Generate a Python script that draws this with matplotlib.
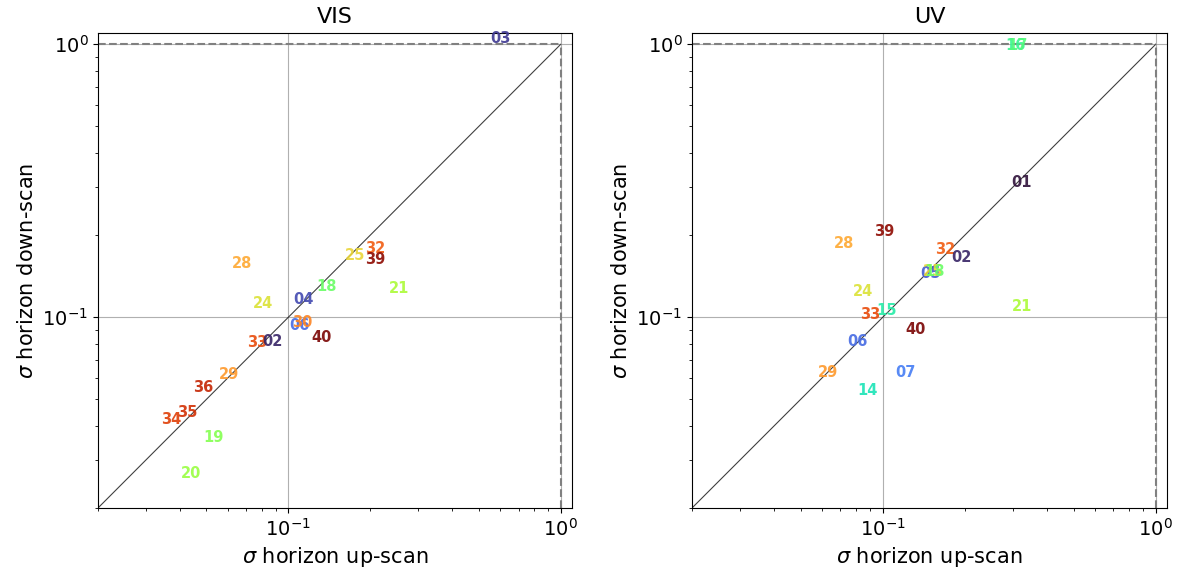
import matplotlib
matplotlib.use("Agg")
import matplotlib.pyplot as plt
import numpy as np

# Visible channel: scan id, sigma up-scan, sigma down-scan
vis_ids = ["03", "28", "24", "25", "32", "39", "18", "21", "04", "06", "30",
           "40", "33", "02", "29", "36", "35", "34", "19", "20"]
vis_up = [0.602, 0.0676, 0.0805, 0.176, 0.209, 0.209, 0.138, 0.254, 0.1138, 0.1098, 0.112,
          0.1326, 0.0771, 0.0871, 0.0603, 0.0487, 0.0424, 0.0372, 0.053, 0.0441]
vis_down = [1.046, 0.158, 0.1125, 0.168, 0.178, 0.163, 0.1297, 0.127, 0.1158, 0.0929, 0.0956,
            0.0842, 0.0807, 0.0818, 0.0616, 0.0553, 0.0449, 0.0422, 0.0361, 0.0268]

# UV channel
uv_ids = ["16", "17", "01", "39", "28", "32", "02", "05", "25", "18", "24", "15",
          "33", "21", "40", "06", "29", "07", "14"]
uv_up = [0.307, 0.311, 0.3225, 0.1009, 0.0719, 0.170, 0.1946, 0.150, 0.1525, 0.155, 0.0847, 0.1031,
         0.0896, 0.3225, 0.1319, 0.0805, 0.063, 0.1211, 0.0881]
uv_down = [0.994, 0.994, 0.311, 0.2066, 0.1866, 0.1768, 0.165, 0.145, 0.1465, 0.147, 0.1243, 0.1054,
           0.102, 0.1094, 0.0898, 0.0818, 0.0626, 0.0626, 0.0541]

lo, hi = 0.02, 1.1
W, H = 1183, 579
fig = plt.figure(figsize=(W / 100, H / 100), dpi=100)
cmap = plt.get_cmap("turbo")


def panel(rect, title, ids, up, down):
    ax = fig.add_axes(rect)
    ax.set_xscale("log")
    ax.set_yscale("log")
    ax.set_xlim(lo, hi)
    ax.set_ylim(lo, hi)
    ax.grid(True, which="major", color="#b0b0b0", lw=0.8)
    ax.set_axisbelow(True)
    ax.plot([lo, 1], [lo, 1], color="black", lw=0.8, alpha=0.75)
    ax.plot([lo, 1], [1, 1], color="grey", ls="--", lw=1.5)
    ax.plot([1, 1], [lo, 1], color="grey", ls="--", lw=1.5)
    for s, x, y in zip(ids, up, down):
        ax.text(x, y, s, color=cmap((int(s) - 1) / 39), fontsize=10.5, fontweight="bold",
                ha="center", va="center", alpha=0.9)
    ax.set_title(title, fontsize=16, pad=7)
    ax.set_xlabel(r"$\sigma$ horizon up-scan", fontsize=15)
    ax.set_ylabel(r"$\sigma$ horizon down-scan", fontsize=15)
    ax.tick_params(labelsize=14)
    return ax


bottom = (H - 508) / H
height = 475 / H
panel([98 / W, bottom, 474 / W, height], "VIS", vis_ids, vis_up, vis_down)
panel([692 / W, bottom, 475 / W, height], "UV", uv_ids, uv_up, uv_down)

fig.savefig("out.png", dpi=100)
